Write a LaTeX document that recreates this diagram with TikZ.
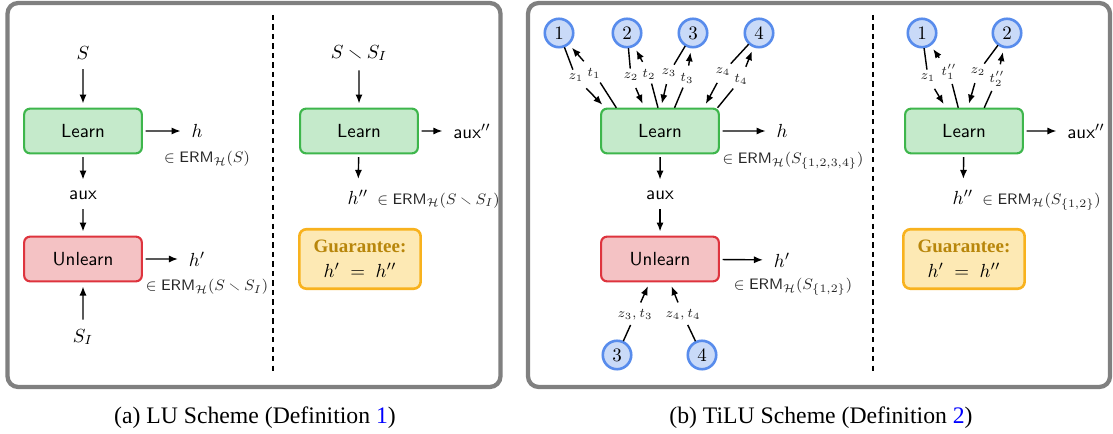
\documentclass[tikz,border=0pt]{standalone}
\usepackage{amsmath,amssymb}
\usepackage[no-math]{fontspec}
\setmainfont{Liberation Serif}
\usetikzlibrary{arrows.meta,positioning}

\definecolor{learnfill}{RGB}{197,234,203}
\definecolor{learnline}{RGB}{62,182,76}
\definecolor{unlearnfill}{RGB}{244,194,196}
\definecolor{unlearnline}{RGB}{222,52,62}
\definecolor{clientfill}{RGB}{201,218,248}
\definecolor{clientline}{RGB}{88,140,236}
\definecolor{guarfill}{RGB}{253,233,180}
\definecolor{guarline}{RGB}{248,178,30}
\definecolor{guartext}{RGB}{184,134,11}

\newcommand{\ERM}{\text{\sffamily ERM}_{\mathcal{H}}}

\tikzset{
  learnbox/.style={draw=learnline, fill=learnfill, line width=0.9pt, rounded corners=2.5pt,
    minimum width=62.1pt, minimum height=23.6pt, font=\sffamily},
  unlearnbox/.style={learnbox, draw=unlearnline, fill=unlearnfill},
  client/.style={circle, draw=clientline, fill=clientfill, line width=1.1pt,
    minimum size=15pt, inner sep=0pt},
  guarbox/.style={draw=guarline, fill=guarfill, line width=1.1pt, rounded corners=3pt,
    minimum width=64pt, minimum height=31.4pt, align=center, inner sep=1pt},
  erm/.style={font=\footnotesize, text=black!85},
  lab/.style={font=\scriptsize, text=black!85, inner sep=2.2pt},
  arr/.style={-{Latex[length=3.8pt,width=3pt]}, line width=0.6pt, shorten >=1.8pt, shorten <=1.2pt},
  frame/.style={draw=black!50, line width=1.8pt, rounded corners=4.5pt},
  sep/.style={line width=0.5pt, dash pattern=on 2.2pt off 1.8pt},
  caption/.style={font=\fontsize{12.5}{15}\selectfont},
}

\begin{document}
\begin{tikzpicture}[x=0.5275pt, y=-0.5275pt, scale=0.8, transform shape]
\useasboundingbox (0,0) rectangle (1113,434);
\draw[frame] (7.5,3) rectangle (500.5,387);
\draw[frame] (528,3) rectangle (1110,387);
\draw[sep] (273,15) -- (273,373);
\draw[sep] (873,15) -- (873,375);

% (a) learn then unlearn
\node (S) at (83,53) {$S$};
\node[learnbox] (learnA) at (83,131) {Learn};
\node (hA) at (197,131) {$h$};
\node[erm] (ermA) at (207,159) {$\in \ERM(S)$};
\node (auxA) at (83,195) {\textsf{aux}};
\node[unlearnbox] (unlearnA) at (83,259) {Unlearn};
\node (hpA) at (197,259) {$h'$};
\node[erm] (ermpA) at (207,287) {$\in \ERM(S \smallsetminus S_I)$};
\node (SI) at (83,337) {$S_I$};
\draw[arr] (S) -- (learnA);
\draw[arr] (learnA) -- (hA);
\draw[arr] (learnA) -- (auxA);
\draw[arr] (auxA) -- (unlearnA);
\draw[arr] (unlearnA) -- (hpA);
\draw[arr] (SI) -- (unlearnA);

% (a) retrain
\node (SmSI) at (359,53) {$S \smallsetminus S_I$};
\node[learnbox] (learnA2) at (359,131) {Learn};
\node (auxppA) at (472,131) {\textsf{aux}$''$};
\node (hppA) at (358,197) {$h''$};
\node[erm, anchor=base west, inner sep=1pt] (ermppA) at (hppA.base east) {$\in \ERM(S \smallsetminus S_I)$};
\node[guarbox] (guarA) at (360,259) {\textcolor{guartext}{\textbf{Guarantee:}}\\[1pt] $h' \;=\; h''$};
\draw[arr] (SmSI) -- (learnA2);
\draw[arr] (learnA2) -- (auxppA);
\draw[arr] (learnA2) -- (hppA);
\node[caption] (capA) at (255,418) {(a) LU Scheme (Definition \textcolor{blue}{1})};

% (b) learn from clients, unlearn
\node[client] (c1) at (559,33) {$1$};
\node[client] (c2) at (627,33) {$2$};
\node[client] (c3) at (693,33) {$3$};
\node[client] (c4) at (759,33) {$4$};
\node[learnbox] (learnB) at (660,131) {Learn};
\node[lab] (z1) at (576,78) {$z_1$};
\node[lab] (t1) at (594,73) {$t_1$};
\node[lab] (z2) at (631,77) {$z_2$};
\node[lab] (t2) at (649,74) {$t_2$};
\node[lab] (z3) at (669,73) {$z_3$};
\node[lab] (t3) at (687,78) {$t_3$};
\node[lab] (z4) at (723,72) {$z_4$};
\node[lab] (t4) at (741,79) {$t_4$};
\draw[arr] (c1) -- (z1) -- (learnB.157);
\draw[arr] (learnB.152) -- (t1) -- (c1);
\draw[arr] (c2) -- (z2) -- (learnB.124);
\draw[arr] (learnB.95) -- (t2) -- (c2);
\draw[arr] (c3) -- (z3) -- (learnB.88);
\draw[arr] (learnB.58) -- (t3) -- (c3);
\draw[arr] (c4) -- (z4) -- (learnB.28);
\draw[arr] (learnB.22) -- (t4) -- (c4);
\node (hB) at (782,131) {$h$};
\node[erm] (ermB) at (793,161) {$\in \ERM(S_{\{1,2,3,4\}})$};
\node (auxB) at (660,195) {\textsf{aux}};
\node[unlearnbox] (unlearnB) at (660,259) {Unlearn};
\node (hpB) at (782,260) {$h'$};
\node[erm] (ermpB) at (793,287) {$\in \ERM(S_{\{1,2\}})$};
\node[client] (c3b) at (617,355) {$3$};
\node[client] (c4b) at (702,355) {$4$};
\node[lab] (zt3) at (635,315) {$z_3,t_3$};
\node[lab] (zt4) at (683,315) {$z_4,t_4$};
\draw[arr] (learnB) -- (hB);
\draw[arr] (learnB) -- (auxB);
\draw[arr] (auxB) -- (unlearnB);
\draw[arr] (unlearnB) -- (hpB);
\draw[arr] (c3b) -- (zt3) -- (unlearnB.-114);
\draw[arr] (c4b) -- (zt4) -- (unlearnB.-67);

% (b) retrain on remaining clients
\node[client] (c1r) at (922,33) {$1$};
\node[client] (c2r) at (1007,33) {$2$};
\node[learnbox] (learnR) at (964,131) {Learn};
\node[lab] (z1r) at (928,78) {$z_1$};
\node[lab] (t1r) at (949,72) {$t''_1$};
\node[lab] (z2r) at (978,72) {$z_2$};
\node[lab] (t2r) at (997,79) {$t''_2$};
\draw[arr] (c1r) -- (z1r) -- (learnR.128);
\draw[arr] (learnR.104) -- (t1r) -- (c1r);
\draw[arr] (c2r) -- (z2r) -- (learnR.81);
\draw[arr] (learnR.49) -- (t2r) -- (c2r);
\node (auxppB) at (1086,131) {\textsf{aux}$''$};
\node (hppB) at (963,197) {$h''$};
\node[erm, anchor=base west, inner sep=1pt] (ermppB) at (hppB.base east) {$\in \ERM(S_{\{1,2\}})$};
\node[guarbox] (guarB) at (964,259) {\textcolor{guartext}{\textbf{Guarantee:}}\\[1pt] $h' \;=\; h''$};
\draw[arr] (learnR) -- (auxppB);
\draw[arr] (learnR) -- (hppB);
\node[caption] (capB) at (821,418) {(b) TiLU Scheme (Definition \textcolor{blue}{2})};
\end{tikzpicture}
\end{document}
